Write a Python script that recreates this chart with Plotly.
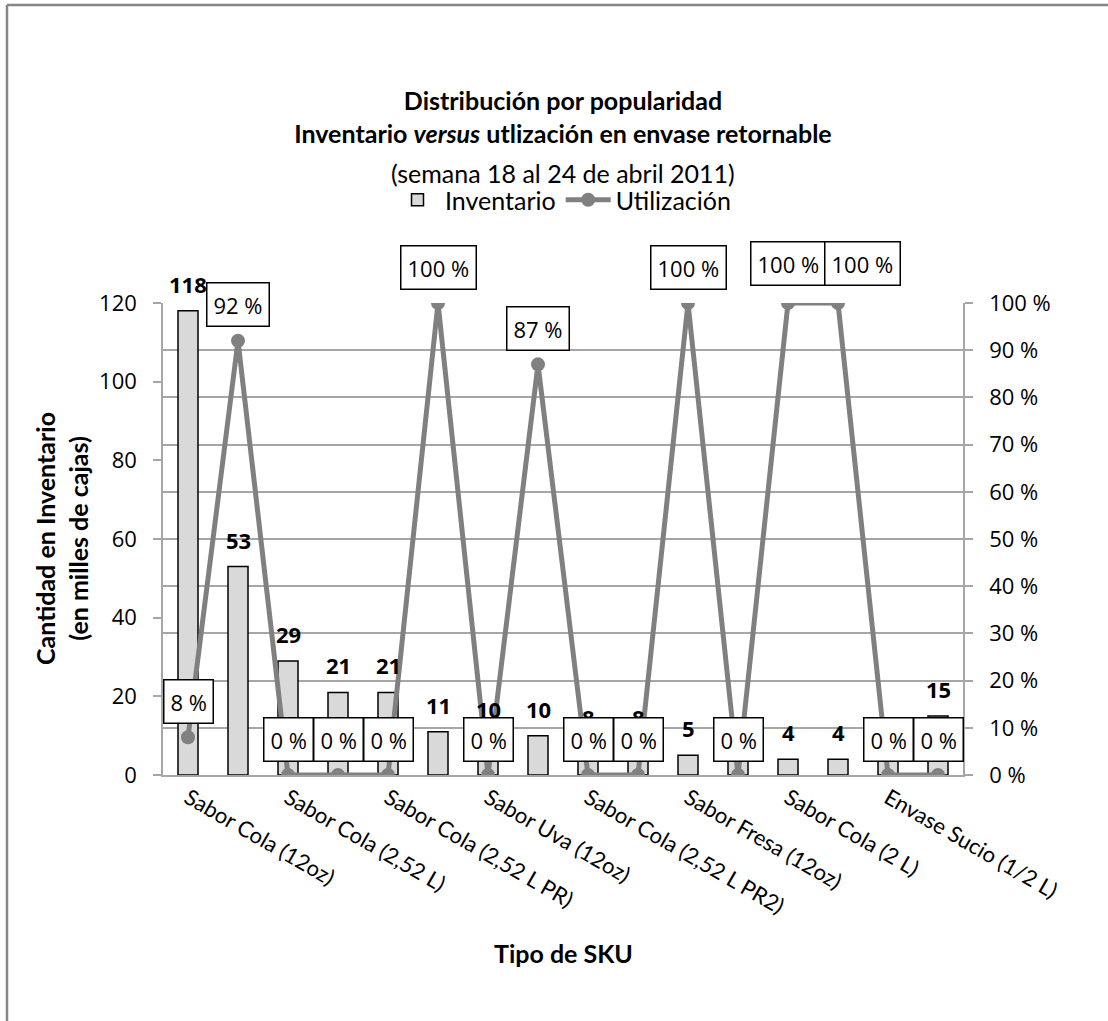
import plotly.graph_objects as go

# ---- data ----
sku_pos = list(range(1, 17))
tick_labels = [
    "Sabor Cola (12oz)",
    "Sabor Cola (2,52 L)",
    "Sabor Cola (2,52 L PR)",
    "Sabor Uva (12oz)",
    "Sabor Cola (2,52 L PR2)",
    "Sabor Fresa (12oz)",
    "Sabor Cola (2 L)",
    "Envase Sucio (1/2 L)",
]
inventario = [118, 53, 29, 21, 21, 11, 10, 10, 8, 8, 5, 4, 4, 4, 4, 15]
utilizacion = [8, 92, 0, 0, 0, 100, 0, 87, 0, 0, 100, 0, 100, 100, 0, 0]

# ---- layout geometry (pixels) ----
W, H = 1108, 1021
L, R, T, B = 163, 145, 303, 246
PW, PH = W - L - R, H - T - B


def px_x(px):
    return (px - L) / PW


def px_y(py):
    return (H - B - py) / PH


FONT = "Lato, 'Open Sans', sans-serif"
NUM_FONT = "'Open Sans', Lato, sans-serif"
GRID = "#a6a6a6"
LINE = "#808080"

# manual offsets (px) for the two adjacent 100 % boxes on the right
label_nudge = {12: (0, 4), 13: (24, 4)}

fig = go.Figure()

fig.add_trace(go.Bar(
    x=sku_pos, y=inventario, name="Inventario", width=0.4,
    marker=dict(color="#d9d9d9", line=dict(color="#000000", width=1.5)),
    yaxis="y",
))
fig.add_trace(go.Scatter(
    x=sku_pos, y=utilizacion, name="Utilización", mode="lines+markers",
    line=dict(color=LINE, width=5), marker=dict(color=LINE, size=14),
    yaxis="y2",
))

annotations = []
# bar value labels
for xv, v in zip(sku_pos, inventario):
    annotations.append(dict(
        x=xv, y=v, xref="x", yref="y", yshift=27, showarrow=False,
        text=f"<b>{v}</b>", font=dict(size=22, color="#000000", family=NUM_FONT),
    ))
# utilisation labels in boxes
for i, (xv, v) in enumerate(zip(sku_pos, utilizacion)):
    dx, dy = label_nudge.get(i, (0, 0))
    annotations.append(dict(
        x=xv, y=v, xref="x", yref="y2", xshift=dx, yshift=36 + dy, showarrow=False,
        text=f"{v} %", font=dict(size=22, color="#000000", family=NUM_FONT),
        bgcolor="#ffffff", bordercolor="#000000", borderwidth=1.5, borderpad=6,
    ))
# subtitle
annotations.append(dict(
    x=0.5, y=px_y(173), xref="paper", yref="paper", showarrow=False,
    text="(semana 18 al 24 de abril 2011)", xanchor="center", yanchor="middle",
    font=dict(size=25, color="#000000", family=FONT),
))
# axis titles
annotations.append(dict(
    x=px_x(61), y=0.5, xref="paper", yref="paper", showarrow=False,
    text="<b>Cantidad en Inventario<br>(en milles de cajas)</b>", textangle=-90,
    xanchor="center", yanchor="middle",
    font=dict(size=25, color="#000000", family=FONT),
))
annotations.append(dict(
    x=0.5, y=px_y(953), xref="paper", yref="paper", showarrow=False,
    text="<b>Tipo de SKU</b>", xanchor="center", yanchor="middle",
    font=dict(size=25, color="#000000", family=FONT),
))

shapes = [
    dict(type="line", xref="paper", yref="paper",
         x0=px_x(7), x1=px_x(W + 5), y0=px_y(5), y1=px_y(5),
         line=dict(color="#868686", width=2.5)),
    dict(type="line", xref="paper", yref="paper",
         x0=px_x(7), x1=px_x(7), y0=px_y(5), y1=px_y(H + 5),
         line=dict(color="#868686", width=2.5)),
]

fig.update_layout(
    width=W, height=H,
    margin=dict(l=L, r=R, t=T, b=B),
    paper_bgcolor="#ffffff", plot_bgcolor="#ffffff",
    font=dict(family=FONT, size=22, color="#000000"),
    title=dict(
        text="<b>Distribución por popularidad<br>Inventario <i>versus</i> utlización en envase retornable</b>",
        x=0.5, xref="paper", xanchor="center",
        y=1 - 110 / H, yref="container", yanchor="middle",
        font=dict(size=25, family=FONT, color="#000000"),
    ),
    showlegend=True,
    legend=dict(
        orientation="h", x=0.5, xanchor="center", y=px_y(200), yanchor="middle",
        font=dict(size=25, family=FONT, color="#000000"),
        bgcolor="rgba(0,0,0,0)", itemwidth=45,
    ),
    xaxis=dict(
        range=[0.5, 16.5], tickmode="array",
        tickvals=sku_pos[::2], ticktext=tick_labels, tickangle=30,
        showline=True, linecolor=GRID, linewidth=1.5,
        showgrid=False, ticks="", zeroline=False,
        tickfont=dict(size=22, family=FONT, color="#000000"),
    ),
    yaxis=dict(
        range=[0, 120], dtick=20, showgrid=False, zeroline=False,
        showline=True, linecolor=GRID, linewidth=1.5,
        ticks="outside", ticklen=8, tickcolor=GRID, tickwidth=1.5,
        ticklabelstandoff=12,
        tickfont=dict(size=22, family=NUM_FONT, color="#000000"),
    ),
    yaxis2=dict(
        range=[0, 100], dtick=10, overlaying="y", side="right",
        ticksuffix=" %", showgrid=True, gridcolor=GRID, gridwidth=1.5,
        zeroline=False, showline=True, linecolor=GRID, linewidth=1.5,
        ticks="outside", ticklen=8, tickcolor=GRID, tickwidth=1.5,
        ticklabelstandoff=12,
        tickfont=dict(size=22, family=NUM_FONT, color="#000000"),
    ),
    annotations=annotations,
    shapes=shapes,
)

fig.write_html("out.html")
